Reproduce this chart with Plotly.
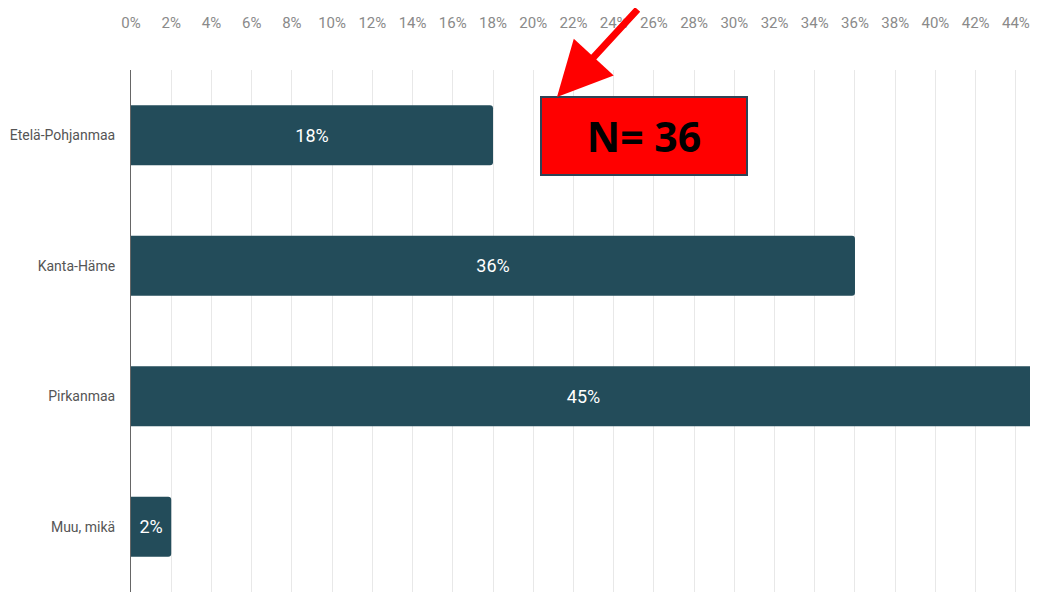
import plotly.graph_objects as go

regions = ["Etelä-Pohjanmaa", "Kanta-Häme", "Pirkanmaa", "Muu, mikä"]
shares = [18, 36, 45, 2]
tick_vals = list(range(0, 46, 2))
tick_text = [f"{v}%" for v in tick_vals]
sample_note = "N= 36"

# page body adds 8px, so the figure is drawn 8px smaller / shifted
W, H = 1030, 584
L, T = 123, 62
FONT = "Roboto, Liberation Sans, sans-serif"


def px(x):
    # screen pixel -> paper x
    return (x - 8 - L) / (W - L)


def py(y):
    # screen pixel -> paper y
    return (H + 8 - y) / (H - T)


fig = go.Figure(go.Bar(
    y=regions, x=shares, orientation="h",
    text=[f"{v}%" for v in shares], textposition="inside", insidetextanchor="middle",
    textfont=dict(family=FONT, size=18, color="#ffffff"),
    marker=dict(color="#234c5a", cornerradius=3, line=dict(width=0)),
    width=0.46, hoverinfo="skip",
))

fig.update_layout(
    width=W, height=H,
    paper_bgcolor="#ffffff", plot_bgcolor="#ffffff",
    margin=dict(l=L, r=0, t=T, b=0),
    showlegend=False,
    xaxis=dict(side="top", range=[0, 45.1], tickvals=tick_vals, ticktext=tick_text,
               tickfont=dict(family=FONT, size=15, color="#8a8a8a"),
               ticklabelstandoff=38, ticks="", showgrid=True, gridcolor="#e8e8e8",
               gridwidth=1, zeroline=False, showline=False, fixedrange=True,
               automargin=False),
    yaxis=dict(autorange="reversed", tickfont=dict(family=FONT, size=14, color="#555555"),
               ticks="", ticklabelstandoff=12, showline=True, linecolor="#666666",
               linewidth=1, showgrid=False, fixedrange=True, automargin=False),
)

# red note box
fig.add_annotation(
    xref="paper", yref="paper", x=px(644), y=py(136), showarrow=False,
    text=f"<b>{sample_note}</b>", width=204, height=76,
    bgcolor="#ff0000", bordercolor="#2e4456", borderwidth=2, borderpad=0,
    font=dict(family="Open Sans, Noto Sans, sans-serif", size=41, color="#000000"),
    xanchor="center", yanchor="middle",
)

# red arrow pointing at the box corner
fig.add_annotation(
    xref="paper", yref="paper", x=px(557), y=py(97), text="",
    showarrow=True, ax=82, ay=-108, arrowhead=2, arrowsize=1.55,
    arrowwidth=7, arrowcolor="#ff0000",
)

fig.write_html("out.html")
